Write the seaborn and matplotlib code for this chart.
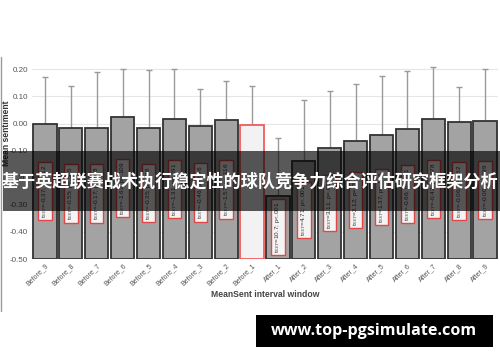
import numpy as np
import pandas as pd
import matplotlib
matplotlib.use("Agg")
import matplotlib.pyplot as plt
import seaborn as sns
from matplotlib.patches import Rectangle

windows = ["Before_9", "Before_8", "Before_7", "Before_6", "Before_5", "Before_4",
           "Before_3", "Before_2", "Before_1", "After_1", "After_2", "After_3",
           "After_4", "After_5", "After_6", "After_7", "After_8", "After_9"]
means = [0.000, -0.016, -0.017, 0.023, -0.016, 0.017, -0.010, 0.013, -0.007,
         -0.267, -0.140, -0.090, -0.065, -0.043, -0.020, 0.016, 0.004, 0.008]
upper = [0.170, 0.140, 0.190, 0.200, 0.198, 0.200, 0.129, 0.157, 0.138,
         -0.052, 0.088, 0.120, 0.144, 0.175, 0.193, 0.210, 0.134, 0.200]
labels = ["t$_{337}$=-0.37; p=.712", "t$_{337}$=-0.55; p=.585", "t$_{337}$=-0.17; p=.868",
          "t$_{337}$=-1.61; p=.109", "t$_{337}$=-0.35; p=.728", "t$_{337}$=-1.31; p=.191",
          "t$_{337}$=-0.46; p=.646", "t$_{337}$=-1.57; p=.116", "",
          "t$_{337}$=10.7; p<.001", "t$_{337}$=4.71; p<.001", "t$_{337}$=3.11; p=.002",
          "t$_{337}$=2.12; p=.037", "t$_{337}$=1.37; p=.176", "t$_{337}$=-0.66; p=.511",
          "t$_{337}$=-0.42; p=.678", "t$_{337}$=-0.06; p=.952", "t$_{337}$=-0.00; p=.999"]
reference = "Before_1"
y_floor = -0.5
y_top = 0.25

sns.set_theme(style="white")
plt.rcParams["font.family"] = ["Liberation Sans", "DejaVu Sans"]

df = pd.DataFrame({"window": windows, "mean": means, "upper": upper, "label": labels})
df["height"] = df["mean"] - y_floor
df["err"] = df["upper"] - df["mean"]

fig = plt.figure(figsize=(5.0, 3.62), dpi=100)
ax = fig.add_axes([0.064, 0.2845, 0.932, 0.5615])

pos = np.arange(len(windows))
ax.errorbar(pos, df["mean"], yerr=df["err"], fmt="none", ecolor="#9a9a9a",
            elinewidth=1.0, capsize=2.2, capthick=1.0, zorder=1)

colors = ["#f2f2f2" if w == reference else "#a3a3a3" for w in windows]
sns.barplot(data=df, x="window", y="height", bottom=y_floor, palette=colors,
            hue="window", legend=False, width=0.9, errorbar=None, ax=ax,
            edgecolor="#333333", linewidth=1.3, zorder=2)
for bar, w in zip(ax.patches, windows):
    if w == reference:
        bar.set_edgecolor("#f25c5c")

for i, row in df.iterrows():
    if row["label"]:
        ax.text(i, (row["mean"] + y_floor) / 2, row["label"], rotation=90,
                ha="center", va="center", fontsize=4.6, color="#333333", zorder=4,
                bbox=dict(boxstyle="square,pad=0.35", facecolor="#f4f4f4",
                          edgecolor="#e04848", linewidth=1.0))

ax.set_ylim(y_floor, y_top)
ax.set_xlim(-0.5, len(windows) - 0.5)
ax.set_yticks([0.2, 0.1, 0.0, -0.1, -0.2, -0.3, -0.4, -0.5])
ax.set_yticklabels(["0.20", "0.10", "0.00", "-0.10", "-0.20", "-0.30", "-0.40", "-0.50"])
ax.yaxis.grid(True, color="#e6e6e6", linewidth=0.8, zorder=0)
ax.set_axisbelow(True)
for s in ax.spines.values():
    s.set_visible(False)
ax.tick_params(axis="y", labelsize=5.8, colors="#555555", length=0, pad=3)
ax.tick_params(axis="x", labelsize=5.0, colors="#555555", length=0, pad=2)
plt.setp(ax.get_xticklabels(), rotation=45, ha="right", rotation_mode="anchor")
ax.set_xlabel("MeanSent interval window", fontsize=6.2, color="#444444",
              fontweight="bold", labelpad=2)
ax.set_ylabel("Mean sentiment", fontsize=6.2, color="#333333", fontweight="bold",
              labelpad=1)
ax.yaxis.set_label_coords(-0.046, 0.62)

# left border line of the figure
fig.add_artist(plt.Line2D([0.002, 0.002], [0.14, 0.843], transform=fig.transFigure,
                          color="#9a9a9a", linewidth=1.0))

# banner overlay
fig.add_artist(Rectangle((0.006, 1 - 210.7 / 362), 0.994, 60 / 362,
                         transform=fig.transFigure, facecolor="black", alpha=0.65,
                         edgecolor="none", zorder=10))
fig.text(0.5, 1 - 182 / 362, "基于英超联赛战术执行稳定性的球队竞争力综合评估研究框架分析",
         ha="center", va="center", color="white", fontsize=12.3, fontweight="bold",
         family=["Noto Sans CJK SC", "DejaVu Sans"], zorder=11)

# watermark
fig.add_artist(Rectangle((256 / 500, 1 - 347 / 362), 237 / 500, 32 / 362,
                         transform=fig.transFigure, facecolor="black",
                         edgecolor="none", zorder=10))
fig.text(374 / 500, 1 - 331 / 362, "www.top-pgsimulate.com", ha="center", va="center",
         color="white", fontsize=11.6, fontweight="bold", family=["Open Sans", "DejaVu Sans"],
         zorder=11)

fig.savefig("out.png", dpi=100)
